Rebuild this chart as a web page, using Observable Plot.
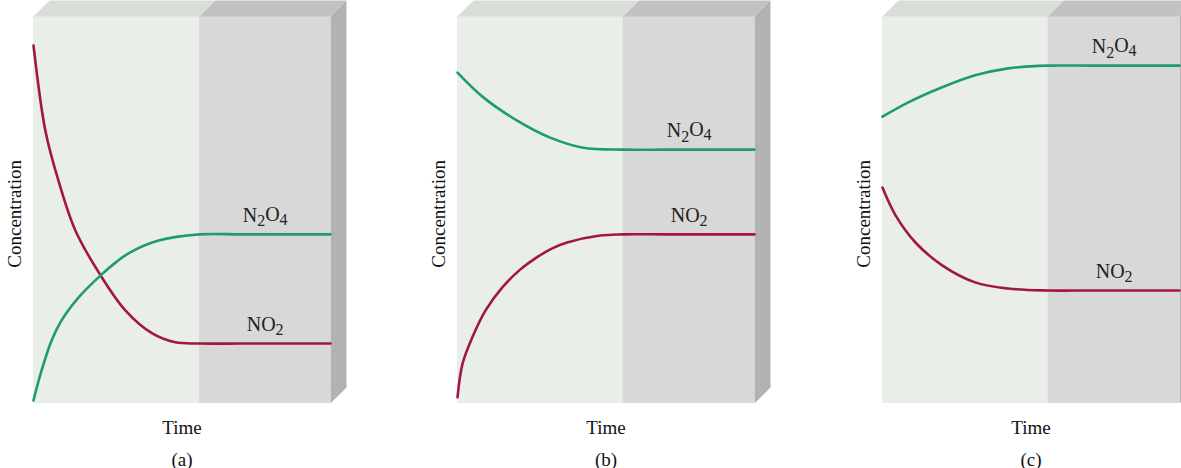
<!DOCTYPE html>
<html>
<head>
<meta charset="utf-8">
<script src="https://cdn.jsdelivr.net/npm/d3@7"></script>
<script src="https://cdn.jsdelivr.net/npm/@observablehq/plot@0.6"></script>
<style>
  html, body { margin: 0; padding: 0; background: #ffffff; overflow: hidden; }
  #wrap { position: relative; width: 1181px; height: 468px; overflow: hidden; }
  .panel { position: absolute; top: 0; width: 400px; height: 468px; }
  .panel svg { max-width: none !important; }
</style>
</head>
<body>
<div id="wrap"></div>
<script>
// ---- data (time fraction 0..1, concentration fraction 0..1) ----
const panelNames = ["(a)", "(b)", "(c)"];
const splitTimes = [0.559, 0.557, 0.557];   // equilibrium reached

const aNO2Time  = [0, 0.04, 0.084, 0.141, 0.226, 0.31, 0.40, 0.478, 0.559, 0.7, 0.85, 1];
const aNO2Conc  = [0.925, 0.705, 0.576, 0.447, 0.331, 0.240, 0.181, 0.158, 0.155, 0.155, 0.155, 0.155];
const aN2O4Time = [0, 0.027, 0.061, 0.094, 0.152, 0.226, 0.276, 0.32, 0.421, 0.559, 0.7, 0.85, 1];
const aN2O4Conc = [0.008, 0.085, 0.163, 0.214, 0.274, 0.331, 0.364, 0.388, 0.421, 0.437, 0.437, 0.437, 0.437];

const bN2O4Time = [0, 0.087, 0.201, 0.312, 0.423, 0.557, 0.7, 0.85, 1];
const bN2O4Conc = [0.855, 0.791, 0.731, 0.687, 0.661, 0.656, 0.656, 0.656, 0.656];
const bNO2Time  = [0, 0.017, 0.05, 0.094, 0.151, 0.208, 0.262, 0.319, 0.369, 0.48, 0.557, 0.7, 0.85, 1];
const bNO2Conc  = [0.016, 0.103, 0.171, 0.24, 0.30, 0.344, 0.375, 0.401, 0.416, 0.434, 0.437, 0.437, 0.437, 0.437];

const cN2O4Time = [0, 0.087, 0.201, 0.312, 0.423, 0.557, 0.7, 0.85, 1];
const cN2O4Conc = [0.741, 0.778, 0.817, 0.848, 0.866, 0.873, 0.873, 0.873, 0.873];
const cNO2Time  = [0, 0.044, 0.111, 0.201, 0.312, 0.423, 0.557, 0.7, 0.85, 1];
const cNO2Conc  = [0.558, 0.486, 0.416, 0.357, 0.313, 0.297, 0.292, 0.292, 0.292, 0.292];

const seriesNames = ["NO2", "N2O4"];
const labelTime = 0.78;
const xLabel = "Time";
const yLabel = "Concentration";

// box depth (oblique projection) in data units
const depthX = 0.054, depthY = 0.0413;

const colors = {NO2: "#a3173f", N2O4: "#1f9b70"};
const faceColors = {
  frontLeft: "#e9eee9", frontRight: "#d8d8d8",
  topLeft: "#d8ddd8", topRight: "#c2c2c2", side: "#b2b2b2"
};

function zip(t, c, name) { return t.map((v, i) => ({time: v, conc: c[i], name})); }

const panels = [
  {name: panelNames[0], split: splitTimes[0], left: 0,
   series: {NO2: zip(aNO2Time, aNO2Conc, "NO2"), N2O4: zip(aN2O4Time, aN2O4Conc, "N2O4")}},
  {name: panelNames[1], split: splitTimes[1], left: 424,
   series: {NO2: zip(bNO2Time, bNO2Conc, "NO2"), N2O4: zip(bN2O4Time, bN2O4Conc, "N2O4")}},
  {name: panelNames[2], split: splitTimes[2], left: 849,
   series: {NO2: zip(cNO2Time, cNO2Conc, "NO2"), N2O4: zip(cN2O4Time, cN2O4Conc, "N2O4")}}
];

const font = "'Liberation Serif', 'Times New Roman', serif";

function poly(pts) { return pts.map(([x, y]) => ({x, y})); }

const wrap = document.getElementById("wrap");

panels.forEach(p => {
  const s = p.split;
  const topLeft = poly([[0,1],[s,1],[s+depthX,1+depthY],[depthX,1+depthY],[0,1]]);
  const topRight = poly([[s,1],[1,1],[1+depthX,1+depthY],[s+depthX,1+depthY],[s,1]]);
  const side = poly([[1,0],[1,1],[1+depthX,1+depthY],[1+depthX,depthY],[1,0]]);

  const labels = seriesNames.map(n => {
    const d = p.series[n];
    return {name: n, time: labelTime, conc: d[d.length - 1].conc};
  });

  const chart = Plot.plot({
    width: 400,
    height: 468,
    marginLeft: 33,
    marginRight: 54,
    marginTop: 0,
    marginBottom: 65,
    style: {fontFamily: font, background: "transparent", overflow: "visible"},
    x: {domain: [0, 1 + depthX], axis: null},
    y: {domain: [0, 1 + depthY], axis: null},
    marks: [
      Plot.rect([{x1: 0, x2: s, y1: 0, y2: 1}], {x1: "x1", x2: "x2", y1: "y1", y2: "y2", fill: faceColors.frontLeft}),
      Plot.rect([{x1: s, x2: 1, y1: 0, y2: 1}], {x1: "x1", x2: "x2", y1: "y1", y2: "y2", fill: faceColors.frontRight}),
      Plot.line(topLeft, {x: "x", y: "y", fill: faceColors.topLeft, stroke: "none"}),
      Plot.line(topRight, {x: "x", y: "y", fill: faceColors.topRight, stroke: "none"}),
      Plot.line(side, {x: "x", y: "y", fill: faceColors.side, stroke: "none"}),
      ...seriesNames.map(n => Plot.line(p.series[n], {
        x: "time", y: "conc", stroke: colors[n], strokeWidth: 2.6, curve: "catmull-rom"
      })),
      Plot.text(labels, {
        x: "time", y: "conc", text: "name", dy: -19,
        fontSize: 20, fill: "#222", fontFamily: font
      }),
      Plot.text([yLabel], {
        x: 0, y: 0.49, text: d => d, rotate: -90, dx: -19,
        fontSize: 19, fill: "#111", fontFamily: font
      }),
      Plot.text([xLabel], {
        x: 0.5, y: 0, text: d => d, dy: 24,
        fontSize: 19, fill: "#111", fontFamily: font
      }),
      Plot.text([p.name], {
        x: 0.5, y: 0, text: d => d, dy: 62, lineAnchor: "bottom",
        fontSize: 19, fill: "#111", fontFamily: font
      })
    ]
  });

  // render chemical formulas with true subscripts
  chart.querySelectorAll("text").forEach(t => {
    const txt = t.textContent;
    if (txt === "N2O4" || txt === "NO2") {
      t.textContent = "";
      const parts = txt.match(/[A-Z]+|\d/g);
      let sub = false;
      parts.forEach(part => {
        const ts = document.createElementNS("http://www.w3.org/2000/svg", "tspan");
        const isDigit = /\d/.test(part);
        ts.textContent = part;
        if (isDigit && !sub) { ts.setAttribute("dy", "0.28em"); ts.setAttribute("font-size", "16"); sub = true; }
        else if (!isDigit && sub) { ts.setAttribute("dy", "-0.28em"); sub = false; }
        else if (isDigit) { ts.setAttribute("font-size", "16"); }
        t.appendChild(ts);
      });
    }
  });

  const div = document.createElement("div");
  div.className = "panel";
  div.style.left = p.left + "px";
  div.appendChild(chart);
  wrap.appendChild(div);
});
</script>
</body>
</html>
